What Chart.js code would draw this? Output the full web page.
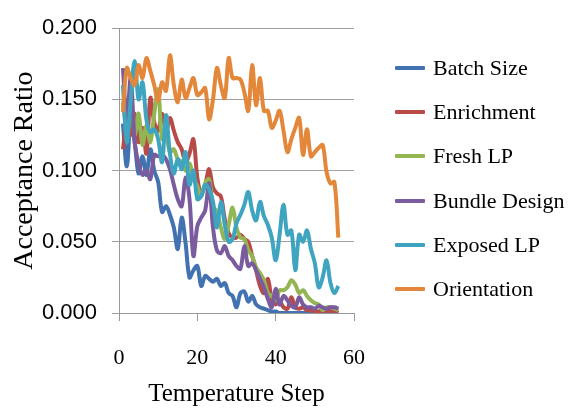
<!DOCTYPE html>
<html>
<head>
<meta charset="utf-8">
<script src="https://cdn.jsdelivr.net/npm/chart.js@4.4.1/dist/chart.umd.min.js"></script>
<style>
  body { margin: 0; background: #fff; }
  #wrap { position: relative; width: 573px; height: 409px; }
  #legend { position: absolute; left: 395px; top: 46px; margin: 0; padding: 0; list-style: none; }
  #legend li { display: flex; align-items: center; height: 44.2px; font-family: 'Liberation Serif', 'Times New Roman', serif; font-size: 22px; color: #000; white-space: nowrap; }
  #legend span.line { display: inline-block; width: 30px; height: 4px; margin-right: 8px; border-radius: 1px; }
</style>
</head>
<body>
<div id="wrap">
<canvas id="myChart" width="573" height="409"></canvas>
<ul id="legend"></ul>
</div>
<script>
// DADES
let steps = [1,2,3,4,5,6,7,8,9,10,11,12,13,14,15,16,17,18,19,20,21,22,23,24,25,26,27,28,29,30,31,32,33,34,35,36,37,38,39,40,41,42,43,44,45,46,47,48,49,50,51,52,53,54,55,56];
let seriesNames = ["Batch Size","Enrichment","Fresh LP","Bundle Design","Exposed LP","Orientation"];
let batchSize = [0.133,0.103,0.135,0.120,0.098,0.110,0.097,0.115,0.100,0.092,0.071,0.075,0.069,0.060,0.045,0.067,0.049,0.025,0.030,0.033,0.019,0.026,0.024,0.022,0.024,0.019,0.021,0.014,0.012,0.004,0.014,0.015,0.008,0.012,0.006,0.004,0.003,0.002,0.001,0.001,0.000,0.000,0.000,0.000,0.000,0.000,0.000,0.000,0.000,0.000,0.000,0.000,0.000,0.000,0.000,0.000];
let enrichment = [0.115,0.134,0.125,0.140,0.120,0.130,0.112,0.151,0.134,0.128,0.140,0.128,0.137,0.128,0.120,0.115,0.106,0.112,0.122,0.095,0.084,0.090,0.101,0.088,0.084,0.082,0.066,0.056,0.053,0.053,0.055,0.052,0.050,0.040,0.030,0.019,0.014,0.024,0.010,0.006,0.008,0.004,0.003,0.011,0.004,0.003,0.004,0.002,0.002,0.001,0.001,0.002,0.001,0.002,0.001,0.002];
let freshLP = [0.148,0.130,0.155,0.125,0.140,0.118,0.132,0.120,0.140,0.157,0.122,0.125,0.113,0.115,0.108,0.106,0.100,0.105,0.095,0.089,0.082,0.091,0.094,0.075,0.071,0.060,0.052,0.062,0.074,0.060,0.053,0.052,0.044,0.040,0.032,0.028,0.023,0.014,0.012,0.009,0.016,0.016,0.018,0.023,0.020,0.014,0.016,0.012,0.009,0.007,0.006,0.002,0.004,0.004,0.003,0.002];
let bundleDesign = [0.172,0.135,0.165,0.120,0.105,0.097,0.100,0.094,0.111,0.110,0.111,0.108,0.101,0.090,0.080,0.075,0.095,0.080,0.040,0.061,0.067,0.072,0.091,0.060,0.044,0.042,0.047,0.040,0.037,0.033,0.031,0.047,0.033,0.035,0.030,0.024,0.018,0.010,0.004,0.017,0.006,0.012,0.009,0.005,0.004,0.011,0.006,0.004,0.004,0.003,0.005,0.004,0.003,0.004,0.004,0.003];
let exposedLP = [0.160,0.120,0.150,0.177,0.150,0.162,0.136,0.127,0.129,0.122,0.106,0.139,0.112,0.098,0.108,0.101,0.113,0.090,0.100,0.080,0.082,0.090,0.087,0.078,0.060,0.078,0.062,0.050,0.052,0.063,0.069,0.076,0.085,0.072,0.065,0.078,0.068,0.062,0.053,0.037,0.055,0.076,0.055,0.058,0.030,0.055,0.050,0.058,0.045,0.035,0.018,0.025,0.037,0.021,0.014,0.019];
let orientation = [0.141,0.172,0.165,0.160,0.174,0.165,0.179,0.170,0.160,0.149,0.162,0.156,0.181,0.160,0.148,0.164,0.151,0.158,0.165,0.153,0.155,0.158,0.136,0.150,0.172,0.160,0.151,0.179,0.165,0.165,0.164,0.155,0.142,0.174,0.146,0.165,0.142,0.142,0.130,0.135,0.142,0.128,0.113,0.122,0.130,0.137,0.111,0.129,0.110,0.113,0.116,0.118,0.099,0.091,0.092,0.053];
let xTicks = [0,20,40,60];
let yTicks = [0,0.05,0.1,0.15,0.2];

let colors = ["#4272b0","#b84a47","#93b653","#7a5c9e","#3fa4bf","#e3873a"];
let allSeries = [batchSize, enrichment, freshLP, bundleDesign, exposedLP, orientation];

// l'ultima serie es dibuixa a sobre (com a Excel)
let datasets = allSeries.map((serie, i) => ({
  label: seriesNames[i],
  data: serie,
  borderColor: colors[i],
  backgroundColor: colors[i],
  borderWidth: 4,
  pointRadius: 0,
  pointHoverRadius: 0,
  tension: 0.35,
  fill: false,
  order: allSeries.length - 1 - i
}));

const serif = "'Liberation Serif', 'Times New Roman', serif";

// llegenda en HTML (la de Chart.js no hi cap a la dreta)
const htmlLegend = {
  id: 'htmlLegend',
  afterUpdate(chart) {
    let ul = document.getElementById('legend');
    ul.innerHTML = '';
    let items = chart.options.plugins.legend.labels.generateLabels(chart);
    items.sort((a, b) => a.datasetIndex - b.datasetIndex);
    items.forEach((item) => {
      let li = document.createElement('li');
      let line = document.createElement('span');
      line.className = 'line';
      line.style.background = item.strokeStyle;
      li.appendChild(line);
      li.appendChild(document.createTextNode(item.text));
      ul.appendChild(li);
    });
  }
};

const config = {
  type: 'line',
  data: {
    labels: steps,
    datasets: datasets
  },
  options: {
    responsive: false,
    animation: false,
    layout: { padding: { top: 25, left: 0, right: 219, bottom: 0 } },
    plugins: {
      tooltip: { enabled: false },
      legend: { display: false }
    },
    scales: {
      x: {
        type: 'linear',
        min: xTicks[0],
        max: xTicks[xTicks.length - 1],
        afterBuildTicks: (scale) => { scale.ticks = xTicks.map(v => ({ value: v })); },
        afterFit: (scale) => { scale.height = 96; },
        grid: { drawOnChartArea: false, drawTicks: true, tickLength: 8, color: '#999' },
        border: { display: true, color: '#999' },
        ticks: { color: '#000', padding: 24, maxRotation: 0, font: { family: serif, size: 22 } },
        title: { display: true, text: 'Temperature Step', color: '#000', padding: { top: 7.6, bottom: 0 }, font: { family: serif, size: 25 } }
      },
      y: {
        min: yTicks[0],
        max: yTicks[yTicks.length - 1],
        afterBuildTicks: (scale) => { scale.ticks = yTicks.map(v => ({ value: v })); },
        afterFit: (scale) => { scale.width = 119; },
        grid: { color: '#a0a0a0', tickLength: 7 },
        border: { display: true, color: '#999' },
        ticks: {
          color: '#000',
          padding: 15,
          font: { family: "'Liberation Sans', Arial, sans-serif", size: 22 },
          callback: (v) => Number(v).toFixed(3)
        },
        title: { display: true, text: 'Acceptance Ratio', color: '#000', padding: { top: 8, bottom: 0 }, font: { family: serif, size: 28 } }
      }
    }
  },
  plugins: [htmlLegend]
};

const ctx = document.getElementById('myChart').getContext('2d');
const myChart = new Chart(ctx, config);
</script>
</body>
</html>
